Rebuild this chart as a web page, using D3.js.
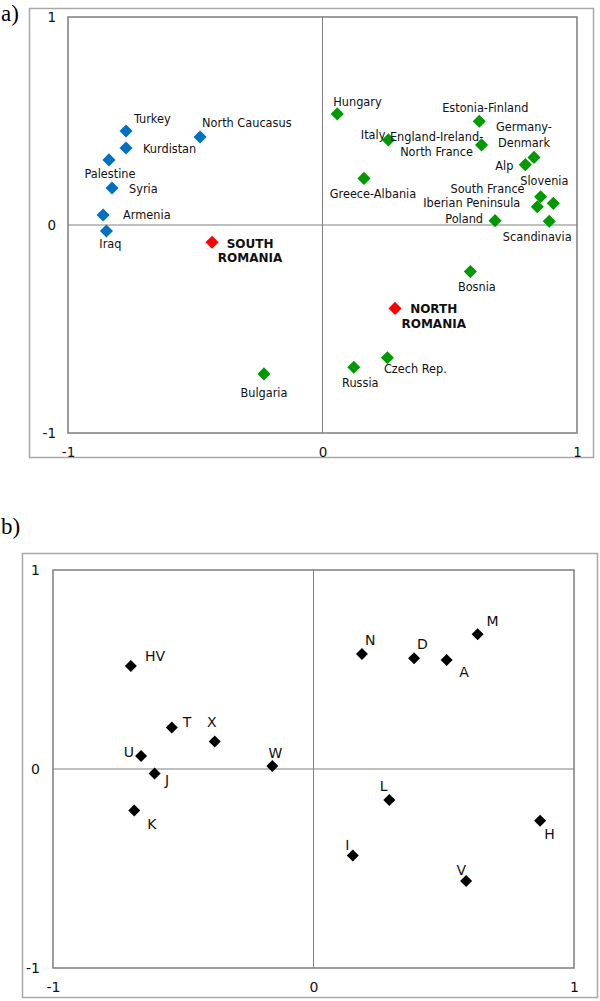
<!DOCTYPE html>
<html>
<head>
<meta charset="utf-8">
<script src="https://cdn.jsdelivr.net/npm/d3@7/dist/d3.min.js"></script>
<style>
  html, body { margin: 0; padding: 0; background: #fff; }
  svg { display: block; }
  .lblA { font-family: "DejaVu Sans Condensed", "DejaVu Sans", sans-serif; font-stretch: condensed; font-size: 12.6px; fill: #111; }
  .lblB { font-family: "DejaVu Sans", sans-serif; font-size: 14px; fill: #111; }
  .tickA text { font-family: "DejaVu Sans", sans-serif; font-size: 13.5px; fill: #111; }
  .tickB text { font-family: "DejaVu Sans", sans-serif; font-size: 14px; fill: #111; }
  .panel { font-family: "Liberation Serif", "Times New Roman", serif; font-size: 23px; fill: #000; }
</style>
</head>
<body>
<svg id="chart" width="600" height="1001"></svg>
<script>
// ---------- Data: panel a ----------
const namesA = ["Turkey", "North Caucasus", "Kurdistan", "Palestine", "Syria", "Armenia", "Iraq",
  "South Romania", "Hungary", "Estonia-Finland", "Italy", "England-Ireland-North France",
  "Germany-Denmark", "Alp", "Greece-Albania", "Slovenia", "South France", "Iberian Peninsula",
  "Poland", "Scandinavia", "Bosnia", "North Romania", "Czech Rep.", "Russia", "Bulgaria"];
const xA = [-0.772, -0.481, -0.772, -0.839, -0.827, -0.862, -0.849,
  -0.434, 0.058, 0.616, 0.259, 0.625,
  0.831, 0.797, 0.163, 0.907, 0.857, 0.844,
  0.678, 0.891, 0.581, 0.285, 0.255, 0.123, -0.230];
const yA = [0.452, 0.423, 0.370, 0.313, 0.178, 0.048, -0.029,
  -0.083, 0.534, 0.499, 0.409, 0.385,
  0.325, 0.290, 0.224, 0.104, 0.136, 0.088,
  0.021, 0.018, -0.224, -0.401, -0.638, -0.684, -0.716];
const groupA = ["asia", "asia", "asia", "asia", "asia", "asia", "asia",
  "romania", "europe", "europe", "europe", "europe",
  "europe", "europe", "europe", "europe", "europe", "europe",
  "europe", "europe", "europe", "romania", "europe", "europe", "europe"];

// ---------- Data: panel b ----------
const namesB = ["HV", "T", "X", "U", "J", "W", "K", "N", "D", "A", "M", "L", "H", "I", "V"];
const xB = [-0.701, -0.544, -0.379, -0.662, -0.610, -0.158, -0.688, 0.186, 0.386, 0.511, 0.630, 0.291, 0.870, 0.151, 0.586];
const yB = [0.518, 0.209, 0.138, 0.065, -0.022, 0.015, -0.209, 0.578, 0.556, 0.548, 0.677, -0.156, -0.260, -0.435, -0.563];

const tickValues = [-1, 0, 1];
const tickLabels = ["-1", "0", "1"];

// ---------- Layout (label placement, styles) ----------
const colorA = { asia: "#0070C0", europe: "#009A00", romania: "#FF0000" };
// [dx, [dy per line], anchor, lines]
const labelA = {
  "Turkey": [8, [-8], "start"],
  "North Caucasus": [2, [-10], "start"],
  "Kurdistan": [17, [5], "start"],
  "Palestine": [1, [18], "middle"],
  "Syria": [17, [5], "start"],
  "Armenia": [20, [4], "start"],
  "Iraq": [4, [17], "middle"],
  "South Romania": [38, [5.5, 20], "middle", ["SOUTH", "ROMANIA"]],
  "Hungary": [-4, [-8], "start"],
  "Estonia-Finland": [6, [-9], "middle"],
  "Italy": [-3, [-1], "end"],
  "England-Ireland-North France": [-45, [-4, 11], "middle", ["England-Ireland-", "North France"]],
  "Germany-Denmark": [-10, [-26.5, -10.5], "middle", ["Germany-", "Denmark"]],
  "Alp": [-12, [5], "end"],
  "Greece-Albania": [9, [20], "middle"],
  "Slovenia": [-9, [-18], "middle"],
  "South France": [-16, [-4], "end"],
  "Iberian Peninsula": [-17, [0], "end"],
  "Poland": [-12, [2], "end"],
  "Scandinavia": [-12, [20], "middle"],
  "Bosnia": [6.5, [19], "middle"],
  "North Romania": [38.7, [5, 20], "middle", ["NORTH", "ROMANIA"]],
  "Czech Rep.": [28, [15.6], "middle"],
  "Russia": [6.5, [20], "middle"],
  "Bulgaria": [0, [23], "middle"]
};
const labelB = {
  "HV": [14, -5, "start"], "T": [11, 0, "start"], "X": [-3, -14.3, "middle"],
  "U": [-7, 1, "end"], "J": [10.4, 12, "start"], "W": [3, -8, "middle"],
  "K": [13, 18, "start"], "N": [3, -9, "start"], "D": [3, -9, "start"],
  "A": [12.6, 17, "start"], "M": [9, -8, "start"], "L": [-9.6, -9, "start"],
  "H": [4, 18, "start"], "I": [-7.7, -6, "start"], "V": [-9.6, -6, "start"]
};

const svg = d3.select("#chart");

function drawFrame(g, x, y, outer, tickClass, yPad, xLabelOffset) {
  g.append("rect").attr("x", outer[0]).attr("y", outer[1]).attr("width", outer[2]).attr("height", outer[3])
    .attr("fill", "none").attr("stroke", "#a8a8a8").attr("stroke-width", 1.5);
  const [x0, x1] = x.range(), [y0, y1] = y.range();
  // zero lines
  g.append("line").attr("x1", x(0)).attr("x2", x(0)).attr("y1", y1).attr("y2", y0)
    .attr("stroke", "#808080").attr("stroke-width", 1);
  g.append("line").attr("x1", x0).attr("x2", x1).attr("y1", y(0)).attr("y2", y(0))
    .attr("stroke", "#808080").attr("stroke-width", 1);
  // plot border
  g.append("rect").attr("x", x0).attr("y", y1).attr("width", x1 - x0).attr("height", y0 - y1)
    .attr("fill", "none").attr("stroke", "#858585").attr("stroke-width", 1.6);
  // axes
  const fmt = (d) => tickLabels[tickValues.indexOf(d)];
  const ay = g.append("g").attr("class", tickClass).attr("transform", `translate(${x0},0)`)
    .call(d3.axisLeft(y).tickValues(tickValues).tickFormat(fmt).tickSize(0).tickPadding(yPad));
  ay.select(".domain").remove();
  const ax = g.append("g").attr("class", tickClass).attr("transform", `translate(0,${y0})`)
    .call(d3.axisBottom(x).tickValues(tickValues).tickFormat(fmt).tickSize(0));
  ax.select(".domain").remove();
  ax.selectAll("text").attr("y", xLabelOffset).attr("dy", "0.36em");
}

// ---------- Panel a ----------
const xa = d3.scaleLinear().domain([-1, 1]).range([68, 577]);
const ya = d3.scaleLinear().domain([-1, 1]).range([433, 17]);
const ga = svg.append("g");
ga.append("text").attr("class", "panel").attr("x", 1).attr("y", 21).text("a)");
drawFrame(ga, xa, ya, [29.5, 8.5, 564, 449], "tickA", 12, 19);

const dataA = namesA.map((n, i) => ({ name: n, x: xA[i], y: yA[i], group: groupA[i] }));
const diamondA = d3.symbol(d3.symbolSquare, 86);
ga.selectAll("path.pt").data(dataA).join("path").attr("class", "pt")
  .attr("d", diamondA)
  .attr("transform", d => `translate(${xa(d.x)},${ya(d.y)}) rotate(45)`)
  .attr("fill", d => colorA[d.group]);

dataA.forEach(d => {
  const L = labelA[d.name];
  const lines = L[3] || [d.name];
  const t = ga.append("text").attr("class", "lblA")
    .attr("text-anchor", L[2])
    .style("font-weight", d.group === "romania" ? "bold" : null)
    .style("font-stretch", d.group === "romania" ? "normal" : null)
    .style("font-family", d.group === "romania" ? "'DejaVu Sans', sans-serif" : null)
    .style("font-size", d.group === "romania" ? "12px" : null);
  lines.forEach((ln, k) => {
    t.append("tspan").attr("x", xa(d.x) + L[0]).attr("y", ya(d.y) + L[1][k]).text(ln);
  });
});

// ---------- Panel b ----------
const xb = d3.scaleLinear().domain([-1, 1]).range([53, 574]);
const yb = d3.scaleLinear().domain([-1, 1]).range([968, 570]);
const gb = svg.append("g");
gb.append("text").attr("class", "panel").attr("x", 1).attr("y", 534).text("b)");
drawFrame(gb, xb, yb, [22.5, 553.5, 575, 444], "tickB", 13, 19);

const dataB = namesB.map((n, i) => ({ name: n, x: xB[i], y: yB[i] }));
const diamondB = d3.symbol(d3.symbolSquare, 72);
gb.selectAll("path.pt").data(dataB).join("path").attr("class", "pt")
  .attr("d", diamondB)
  .attr("transform", d => `translate(${xb(d.x)},${yb(d.y)}) rotate(45)`)
  .attr("fill", "#000");
gb.selectAll("text.lblB").data(dataB).join("text").attr("class", "lblB")
  .attr("x", d => xb(d.x) + labelB[d.name][0])
  .attr("y", d => yb(d.y) + labelB[d.name][1])
  .attr("text-anchor", d => labelB[d.name][2])
  .text(d => d.name);
</script>
</body>
</html>
